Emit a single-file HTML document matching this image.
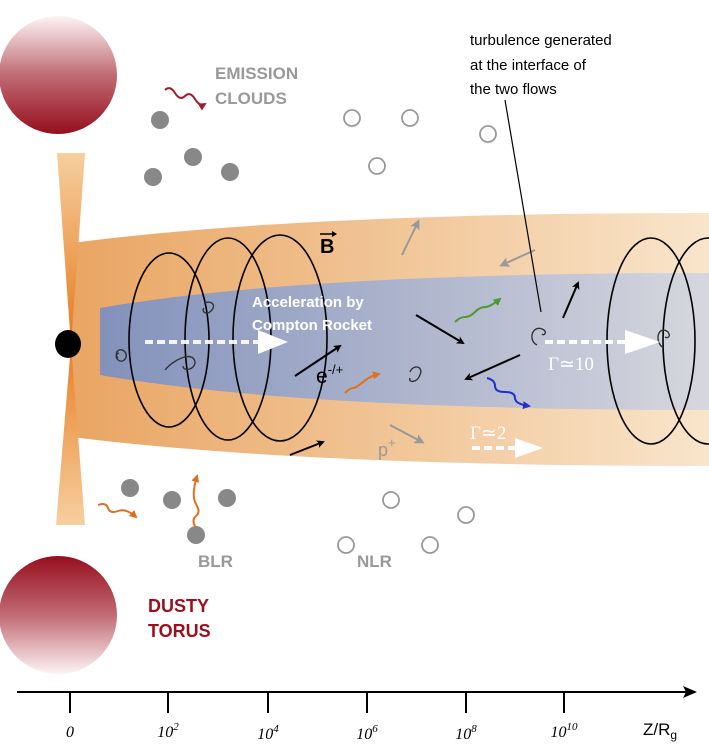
<!DOCTYPE html><html><head><style>body{margin:0;background:#fff}svg{display:block}</style></head><body>
<svg width="709" height="745" viewBox="0 0 709 745" xmlns="http://www.w3.org/2000/svg" font-family="Liberation Sans, sans-serif">
<defs>
<linearGradient id="jo" x1="0" x2="1"><stop offset="0" stop-color="#e9a563"/><stop offset="1" stop-color="#f9e5cb"/></linearGradient>
<linearGradient id="jb" x1="0" x2="1"><stop offset="0" stop-color="#8391bb"/><stop offset="1" stop-color="#d6d7de"/></linearGradient>
<linearGradient id="t1" x1="0" y1="0" x2="0" y2="1"><stop offset="0" stop-color="#fdf4f5"/><stop offset="0.5" stop-color="#c06b74"/><stop offset="1" stop-color="#960f1e"/></linearGradient>
<linearGradient id="t2" x1="0" y1="0" x2="0" y2="1"><stop offset="0" stop-color="#960f1e"/><stop offset="0.5" stop-color="#c06b74"/><stop offset="1" stop-color="#fdf4f5"/></linearGradient>
<linearGradient id="disk" x1="0" y1="0" x2="0" y2="1"><stop offset="0" stop-color="#f6cf9f"/><stop offset="0.5" stop-color="#e87b20"/><stop offset="1" stop-color="#f6cf9f"/></linearGradient>
<marker id="ab" markerWidth="8" markerHeight="8" refX="6" refY="4" orient="auto" markerUnits="userSpaceOnUse"><path d="M0,0 L8,4 L0,8 L2,4z" fill="#000"/></marker>
<marker id="ag" markerWidth="10" markerHeight="10" refX="7" refY="5" orient="auto" markerUnits="userSpaceOnUse"><path d="M0,0 L10,5 L0,10 L2,5z" fill="#999"/></marker>
<marker id="ar" markerWidth="8" markerHeight="8" refX="6" refY="4" orient="auto" markerUnits="userSpaceOnUse"><path d="M0,0 L8,4 L0,8z" fill="#a01c2a"/></marker>
<marker id="aor" markerWidth="8" markerHeight="8" refX="6" refY="4" orient="auto" markerUnits="userSpaceOnUse"><path d="M0,0 L8,4 L0,8z" fill="#e07020"/></marker>
<marker id="agr" markerWidth="8" markerHeight="8" refX="6" refY="4" orient="auto" markerUnits="userSpaceOnUse"><path d="M0,0 L8,4 L0,8z" fill="#4a9a30"/></marker>
<marker id="abl" markerWidth="8" markerHeight="8" refX="6" refY="4" orient="auto" markerUnits="userSpaceOnUse"><path d="M0,0 L8,4 L0,8z" fill="#2030d0"/></marker>
<marker id="ax" markerWidth="14" markerHeight="12" refX="12" refY="6" orient="auto" markerUnits="userSpaceOnUse"><path d="M0,0 L14,6 L0,12 L3,6z" fill="#000"/></marker>
</defs>
<circle cx="58" cy="75" r="59" fill="url(#t1)"/>
<circle cx="58" cy="615" r="59" fill="url(#t2)"/>
<path d="M72,243 Q300,213 709,213 L709,466 Q300,466 72,437 Z" fill="url(#jo)"/>
<path d="M100,308 Q300,273 709,273 L709,410 Q300,410 100,375 Z" fill="url(#jb)"/>
<path d="M57,153 L85,153 L71,345 Z M71,345 L85,525 L56,525 Z" fill="url(#disk)"/>
<ellipse cx="68" cy="344" rx="13" ry="14" fill="#000"/>
<g fill="none" stroke="#000" stroke-width="1.6">
<ellipse cx="169" cy="340" rx="40" ry="87"/>
<ellipse cx="228" cy="339" rx="43" ry="101"/>
<ellipse cx="280" cy="338" rx="47" ry="103"/>
<ellipse cx="651" cy="341" rx="44" ry="103"/>
<ellipse cx="708" cy="341" rx="45" ry="103"/>
</g>
<g fill="none" stroke="#333" stroke-width="1.4">
<path d="M118,358 c-5,-5 2,-12 7,-6 c4,5 -2,12 -7,8 c-3,-3 -2,-6 1,-7"/>
<path d="M205,303 c6,-3 12,2 6,8 c-5,5 -10,0 -7,-3"/>
<path d="M165,370 c8,-10 28,-20 30,-8 c0,8 -12,10 -12,4"/>
<path d="M410,372 c3,-8 14,-6 10,3 c-3,8 -12,8 -10,3"/>
<path d="M537,345 c-10,-5 -4,-22 7,-15 c3,3 0,6 -2,4"/>
<path d="M662,347 c-8,-8 -3,-22 6,-15 c3,4 0,7 -3,5"/>
</g>
<g fill="#888"><circle cx="160" cy="120" r="9"/><circle cx="193" cy="157" r="9"/><circle cx="153" cy="177" r="9"/><circle cx="230" cy="172" r="9"/><circle cx="130" cy="488" r="9"/><circle cx="172" cy="500" r="9"/><circle cx="227" cy="498" r="9"/><circle cx="196" cy="535" r="9"/></g>
<g fill="none" stroke="#999" stroke-width="1.8"><circle cx="352" cy="118" r="8"/><circle cx="410" cy="118" r="8"/><circle cx="488" cy="134" r="8"/><circle cx="377" cy="166" r="8"/><circle cx="391" cy="500" r="8"/><circle cx="346" cy="545" r="8"/><circle cx="430" cy="545" r="8"/><circle cx="466" cy="515" r="8"/></g>
<g stroke-width="2" fill="none">
<path d="M165,90 q5,-5 10,3 t10,3 t10,3 t10,5" stroke="#a01c2a" marker-end="url(#ar)"/>
<path d="M455,322 q5,-5 10,-5 t10,-5 t10,-5 t15,-8" stroke="#4a9a30" marker-end="url(#agr)"/>
<path d="M487,378 q8,2 8,8 t10,6 t10,6 t14,8" stroke="#2030d0" marker-end="url(#abl)"/>
<path d="M345,393 q5,-5 8,-5 t10,-6 t16,-8" stroke="#e07020" marker-end="url(#aor)"/>
<path d="M98,505 q8,-3 10,3 t10,3 t18,6" stroke="#e07020" marker-end="url(#aor)"/>
<path d="M196,528 q-5,-8 0,-12 t0,-12 t1,-28" stroke="#e07020" marker-end="url(#aor)"/>
</g>
<g stroke="#000" stroke-width="2" marker-end="url(#ab)">
<line x1="416" y1="315" x2="463" y2="343"/><line x1="520" y1="355" x2="466" y2="379"/><line x1="563" y1="318" x2="578" y2="283"/><line x1="290" y1="455" x2="323" y2="442"/><line x1="295" y1="376" x2="340" y2="346"/>
</g>
<g stroke="#999" stroke-width="2" marker-end="url(#ag)">
<line x1="402" y1="255" x2="418" y2="222"/><line x1="535" y1="250" x2="502" y2="265"/><line x1="390" y1="425" x2="422" y2="442"/>
</g>
<g stroke="#fff" stroke-width="4" stroke-dasharray="8,4" fill="none">
<line x1="145" y1="342" x2="262" y2="342" stroke-opacity="0.9"/><line x1="545" y1="342" x2="630" y2="342"/><line x1="472" y1="448" x2="520" y2="448"/>
</g>
<g fill="#fff"><path d="M258,330 L288,342 L258,354 Z"/><path d="M625,330 L660,342 L625,354 Z"/><path d="M515,438 L543,448 L515,458 Z"/></g>
<line x1="505" y1="100" x2="541" y2="312" stroke="#000" stroke-width="1.2"/>
<g font-size="15" fill="#000"><text x="470" y="45">turbulence generated</text><text x="470" y="70">at the interface of</text><text x="470" y="94">the two flows</text></g>
<g font-size="17" font-weight="bold" fill="#999"><text x="215" y="79">EMISSION</text><text x="215" y="104">CLOUDS</text><text x="198" y="567">BLR</text><text x="357" y="567">NLR</text></g>
<g font-size="18" font-weight="bold" fill="#9a0f1e"><text x="148" y="612">DUSTY</text><text x="148" y="637">TORUS</text></g>
<g font-size="15" font-weight="bold" fill="#fff"><text x="252" y="307">Acceleration by</text><text x="252" y="330">Compton Rocket</text></g>
<text x="320" y="253" font-size="20" font-weight="bold">B</text><line x1="320" y1="234" x2="334" y2="234" stroke="#000" stroke-width="1.5"/><path d="M332,231 L337,234 L332,237z"/>
<text x="316" y="383" font-size="21">e<tspan font-size="13" dy="-9">-/+</tspan></text>
<text x="378" y="456" font-size="18" fill="#999">p<tspan font-size="13" dy="-9">+</tspan></text>
<g font-family="Liberation Serif, serif" font-size="19" fill="#fff"><text x="548" y="370">Γ≃10</text><text x="470" y="439">Γ≃2</text></g>
<line x1="17" y1="692" x2="695" y2="692" stroke="#000" stroke-width="2" marker-end="url(#ax)"/>
<g stroke="#000" stroke-width="2"><line x1="70" y1="693" x2="70" y2="713"/><line x1="168" y1="693" x2="168" y2="713"/><line x1="268" y1="693" x2="268" y2="713"/><line x1="367" y1="693" x2="367" y2="713"/><line x1="466" y1="693" x2="466" y2="713"/><line x1="564" y1="693" x2="564" y2="713"/></g>
<g font-family="Liberation Serif, serif" font-style="italic" font-size="16" text-anchor="middle"><text x="70" y="737">0</text><text x="168" y="737">10<tspan font-size="11" dy="-7">2</tspan></text><text x="268" y="739">10<tspan font-size="11" dy="-7">4</tspan></text><text x="367" y="739">10<tspan font-size="11" dy="-7">6</tspan></text><text x="466" y="739">10<tspan font-size="11" dy="-7">8</tspan></text><text x="564" y="737">10<tspan font-size="11" dy="-7">10</tspan></text></g>
<text x="643" y="735" font-size="17">Z/R<tspan font-size="12" dy="4">g</tspan></text>
</svg>
</body></html>
